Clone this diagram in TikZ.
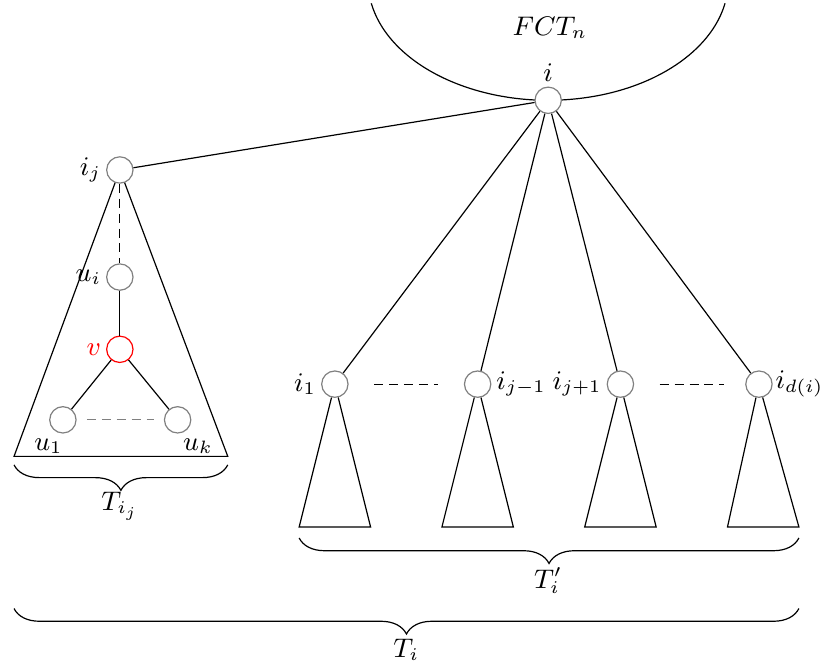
\documentclass[tikz,border=0pt]{standalone}
\usepackage{amsmath,amssymb}
\usepackage{tikz}
\usetikzlibrary{
    calc,
    decorations.pathreplacing
}

\tikzset{
    vertex/.style={circle,draw=gray,fill=white,minimum size=0.31cm,inner sep=0pt},
    underbrace/.style={decorate,decoration={brace,mirror,amplitude=0.3cm}},
    every label/.style={inner sep=1.5pt}
}

\begin{document}
\begin{tikzpicture}[font=\small]

\useasboundingbox (0,0) rectangle (9.66,7.85);

% Component FCT_n
\draw (6.45,8.08) ++(191:2.12cm and 1.41cm) arc[start angle=191,end angle=349,x radius=2.12cm,y radius=1.41cm];
\node (fct) at (6.47,7.52) {$FCT_n$};

% Root
\node[vertex,label=above:$i$] (i) at (6.45,6.67) {};

% Left subtree T_{i_j}
\node[vertex,label=left:$i_j$] (ij) at (1.41,5.85) {};
\node[vertex,label=left:$u_i$] (ui) at (1.41,4.59) {};
\node[vertex,draw=red,label={[red]left:$v$}] (v) at (1.41,3.74) {};
\node[vertex,label={[xshift=-0.17cm]below:$u_1$}] (u1) at (0.74,2.91) {};
\node[vertex,label={[xshift=0.24cm]below:$u_k$}] (uk) at (2.09,2.91) {};

\coordinate (ijL) at (0.165,2.48);
\coordinate (ijR) at (2.68,2.48);
\draw (ij) -- (ijL) -- (ijR) -- (ij);

\draw[densely dashed] (ij) -- (ui);
\draw (ui) -- (v);
\draw (v) -- (u1);
\draw (v) -- (uk);
\draw[densely dashed,gray,shorten <=0.12cm,shorten >=0.12cm] (u1) -- (uk);

% Other children of i
\node[vertex,label=left:$i_1$] (i1) at (3.94,3.33) {};
\node[vertex,label=right:$i_{j-1}$] (ijm) at (5.62,3.33) {};
\node[vertex,label=left:$i_{j+1}$] (ijp) at (7.30,3.33) {};
\node[vertex,label={[inner sep=0.8pt]right:$i_{d(i)}$}] (id) at (8.93,3.33) {};

\draw (i) -- (ij);
\draw (i) -- (i1);
\draw (i) -- (ijm);
\draw (i) -- (ijp);
\draw (i) -- (id);

\draw[densely dashed,shorten <=0.3cm,shorten >=0.3cm] (i1) -- (ijm);
\draw[densely dashed,shorten <=0.3cm,shorten >=0.25cm] (ijp) -- (id);

% Subtrees below the children
\coordinate (i1L) at (3.52,1.65);
\coordinate (i1R) at (4.36,1.65);
\coordinate (ijmL) at (5.20,1.65);
\coordinate (ijmR) at (6.04,1.65);
\coordinate (ijpL) at (6.88,1.65);
\coordinate (ijpR) at (7.72,1.65);
\coordinate (idL) at (8.56,1.65);
\coordinate (idR) at (9.40,1.65);

\draw (i1) -- (i1L) -- (i1R) -- (i1);
\draw (ijm) -- (ijmL) -- (ijmR) -- (ijm);
\draw (ijp) -- (ijpL) -- (ijpR) -- (ijp);
\draw (id) -- (idL) -- (idR) -- (id);

% Braces
\draw[underbrace] (0.165,2.38) -- (2.68,2.38);
\node (tij) at (1.41,1.89) {$T_{i_j}$};

\draw[underbrace] (3.52,1.52) -- (9.40,1.52);
\node (tip) at (6.45,1.02) {$T'_i$};

\draw[underbrace] (0.165,0.69) -- (9.40,0.69);
\node (ti) at (4.78,0.2) {$T_i$};

\end{tikzpicture}
\end{document}
